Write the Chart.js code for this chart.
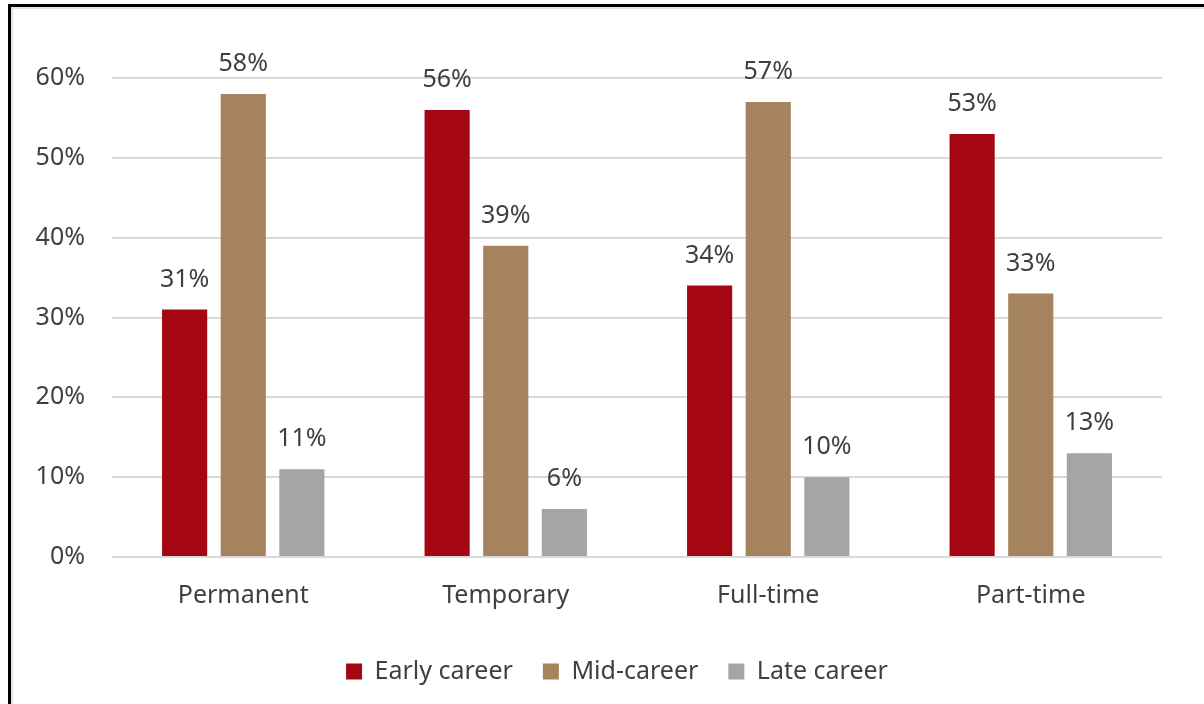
<!DOCTYPE html>
<html>
<head>
<meta charset="utf-8">
<title>Career stage by contract type</title>
<script src="https://cdn.jsdelivr.net/npm/chart.js@4.4.1/dist/chart.umd.min.js"></script>
<style>
  html, body { margin: 0; padding: 0; background: #fff; }
  #wrap { position: relative; width: 1204px; height: 704px; overflow: hidden; }
  #frame {
    position: absolute; left: 8px; top: 4px; right: 0; bottom: 0;
    border-left: 3px solid #000; border-top: 3px solid #000;
    box-shadow: inset 2px 2px 0 #e3e3e3;
    pointer-events: none;
  }
  canvas { position: absolute; left: 0; top: 0; }
</style>
</head>
<body>
<div id="wrap">
  <canvas id="chart" width="1204" height="704"></canvas>
  <div id="frame"></div>
</div>
<script>
// Share of each career stage within contract types (percent)
const categories = ['Permanent', 'Temporary', 'Full-time', 'Part-time'];
const earlyCareer = [31, 56, 34, 53];
const midCareer = [58, 39, 57, 33];
const lateCareer = [11, 6, 10, 13];
const yTicks = [0, 10, 20, 30, 40, 50, 60];

const RED = '#A50712';
const TAN = '#A5835F';
const GREY = '#A5A5A5';
const TEXT = '#404040';
const FONT = '"Noto Sans", "Liberation Sans", Arial, sans-serif';
const FSIZE = 25;

// value labels above each bar
const barLabels = {
  id: 'barLabels',
  afterDatasetsDraw(chart) {
    const ctx = chart.ctx;
    ctx.save();
    ctx.font = FSIZE + 'px ' + FONT;
    ctx.fillStyle = TEXT;
    ctx.textAlign = 'center';
    ctx.textBaseline = 'middle';
    chart.data.datasets.forEach(function (ds, i) {
      chart.getDatasetMeta(i).data.forEach(function (bar, j) {
        ctx.fillText(ds.data[j] + '%', bar.x, bar.y - 30);
      });
    });
    ctx.restore();
  }
};

// the original legend sits a bit right of the canvas centre
const legendShift = {
  id: 'legendShift',
  afterLayout(chart) {
    if (chart.legend) { chart.legend.left += 72; }
  }
};

new Chart(document.getElementById('chart'), {
  type: 'bar',
  data: {
    labels: categories,
    datasets: [
      { label: 'Early career', data: earlyCareer, backgroundColor: RED },
      { label: 'Mid-career', data: midCareer, backgroundColor: TAN },
      { label: 'Late career', data: lateCareer, backgroundColor: GREY }
    ]
  },
  plugins: [barLabels, legendShift],
  options: {
    responsive: false,
    animation: false,
    devicePixelRatio: 1,
    categoryPercentage: 0.67,
    barPercentage: 0.77,
    layout: { padding: { top: 78, right: 42, bottom: 10, left: 0 } },
    scales: {
      y: {
        min: 0,
        max: 60,
        afterBuildTicks(scale) { scale.ticks = yTicks.map(function (v) { return { value: v }; }); },
        afterFit(scale) { scale.width = 112; },
        border: { display: false },
        grid: { color: '#d9d9d9', lineWidth: 2, drawTicks: false },
        ticks: {
          padding: 27,
          color: TEXT,
          font: { family: FONT, size: FSIZE },
          callback: function (v) { return v + '%'; }
        }
      },
      x: {
        afterFit(scale) { scale.height = 72; },
        border: { display: false },
        grid: { display: false, drawTicks: false },
        ticks: { padding: 24, color: TEXT, font: { family: FONT, size: FSIZE } }
      }
    },
    plugins: {
      legend: {
        position: 'bottom',
        labels: {
          boxWidth: 16,
          boxHeight: 16,
          padding: 30,
          color: TEXT,
          font: { family: FONT, size: FSIZE }
        }
      },
      tooltip: { enabled: false }
    }
  }
});
</script>
</body>
</html>
